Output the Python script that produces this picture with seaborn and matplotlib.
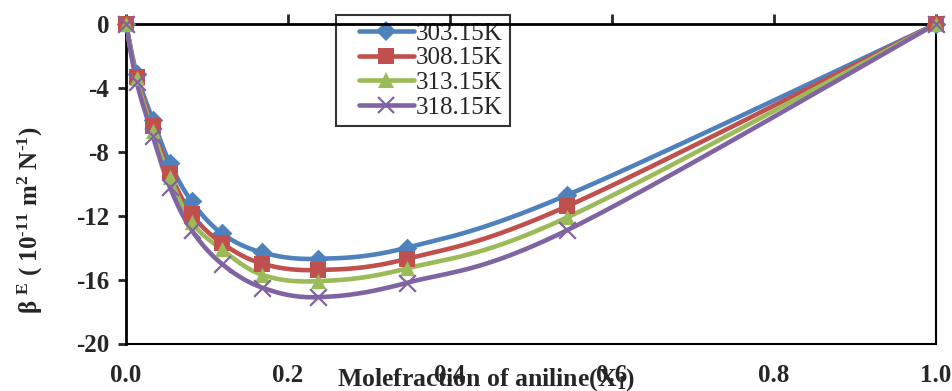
import numpy as np
import pandas as pd
import matplotlib
matplotlib.use("Agg")
import matplotlib.pyplot as plt
from matplotlib.lines import Line2D
from matplotlib.legend_handler import HandlerLine2D
import seaborn as sns

# ---- data ----
x_frac = [0.0, 0.013, 0.033, 0.054, 0.081, 0.118, 0.168, 0.237, 0.347, 0.545, 1.0]
b303 = [0, -3.1, -6.0, -8.7, -11.1, -13.1, -14.3, -14.7, -14.0, -10.7, 0]
b308 = [0, -3.3, -6.4, -9.3, -11.9, -13.7, -15.0, -15.4, -14.7, -11.4, 0]
b313 = [0, -3.4, -6.7, -9.6, -12.4, -14.1, -15.7, -16.1, -15.3, -12.1, 0]
b318 = [0, -3.6, -7.0, -10.2, -12.9, -15.0, -16.5, -17.1, -16.2, -12.9, 0]
series_labels = ["303.15K", "308.15K", "313.15K", "318.15K"]
x_ticks = [0.0, 0.2, 0.4, 0.6, 0.8, 1.0]
y_ticks = [0, -4, -8, -12, -16, -20]

colors = ["#4F81BD", "#C0504D", "#9BBB59", "#8064A2"]
markers = ["D", "s", "^", "x"]
msizes = [10, 11, 11, 12]

sns.set_style("white")
plt.rcParams["font.family"] = "serif"
plt.rcParams["font.serif"] = ["Liberation Serif", "Times New Roman", "DejaVu Serif"]
plt.rcParams["mathtext.fontset"] = "custom"
plt.rcParams["mathtext.rm"] = "Liberation Serif:bold"
plt.rcParams["mathtext.it"] = "Liberation Serif:bold"
plt.rcParams["mathtext.bf"] = "Liberation Serif:bold"

fig = plt.figure(figsize=(9.53, 3.91), dpi=100)
ax = fig.add_axes([126/953, 1-343.5/391, (936-126)/953, (343.5-24)/391])


def smooth(xs, ys, n=30):
    """Excel-like smoothed line (Bezier through points, Catmull-Rom tangents)."""
    P = np.column_stack([xs, ys]).astype(float)
    out = []
    m = len(P)
    for i in range(m - 1):
        p0 = P[i - 1] if i > 0 else P[i]
        p1, p2 = P[i], P[i + 1]
        p3 = P[i + 2] if i + 2 < m else P[i + 1]
        c1 = p1 + (p2 - p0) / 6.0
        c2 = p2 - (p3 - p1) / 6.0
        t = np.linspace(0, 1, n)[:, None]
        seg = ((1 - t) ** 3) * p1 + 3 * ((1 - t) ** 2) * t * c1 + 3 * (1 - t) * t ** 2 * c2 + t ** 3 * p2
        out.append(seg if i == 0 else seg[1:])
    S = np.vstack(out)
    return S[:, 0], S[:, 1]


all_series = [b303, b308, b313, b318]
handles = []
for ys, lab, c, mk, ms in zip(all_series, series_labels, colors, markers, msizes):
    sx, sy = smooth(x_frac, ys)
    df_line = pd.DataFrame({"x": sx, "y": sy})
    sns.lineplot(data=df_line, x="x", y="y", sort=False, color=c, lw=3.3, ax=ax,
                 estimator=None, legend=False, zorder=3)
    df_pts = pd.DataFrame({"x": x_frac, "y": ys})
    if mk == "x":
        sns.scatterplot(data=df_pts, x="x", y="y", marker="x", s=ms**2, color=c,
                        linewidth=1.6, ax=ax, legend=False, zorder=4, clip_on=False)
    else:
        sns.scatterplot(data=df_pts, x="x", y="y", marker=mk, s=ms**2, color=c,
                        edgecolor=c, linewidth=0, ax=ax, legend=False, zorder=4, clip_on=False)
    handles.append(Line2D([0], [0], color=c, lw=3.3, marker=mk, markersize=ms,
                          markeredgecolor=c, markeredgewidth=1.6 if mk == "x" else 0,
                          solid_capstyle="round"))

ax.set_xlim(0, 1)
ax.set_ylim(-20, 0)
ax.set_xticks(x_ticks)
ax.set_xticklabels([f"{v:.1f}" for v in x_ticks])
ax.set_yticks(y_ticks)
ax.set_yticklabels([str(v) for v in y_ticks])

for side in ["left", "top"]:
    ax.spines[side].set_color("black")
    ax.spines[side].set_linewidth(2.0)
for side in ["right", "bottom"]:
    ax.spines[side].set_color("black")
    ax.spines[side].set_linewidth(1.5)

ax.tick_params(axis="x", bottom=False, top=True, labelbottom=True, labeltop=False,
               direction="out", length=7, width=2, pad=8, labelsize=18)
ax.tick_params(axis="y", left=True, direction="out", length=6, width=2, pad=6, labelsize=18)
for lbl in ax.get_xticklabels() + ax.get_yticklabels():
    lbl.set_fontweight("bold")

ax.set_xlabel("Molefraction of aniline(X$_{1}$)", fontsize=18.5, fontweight="bold")
ax.set_ylabel("β $^{\\rm E}$ ( 10$^{\u201011}$ m$^{2}$ N$^{\u20101}$)", fontsize=18, fontweight="bold")
ax.xaxis.set_label_coords(0.444, -0.07)
ax.yaxis.set_label_coords(-0.1, 0.387)


class ShiftedHandler(HandlerLine2D):
    """Legend handle drawn with a left gap, as in the reference."""
    def create_artists(self, legend, orig_handle, xdescent, ydescent, width, height, fontsize, trans):
        arts = super().create_artists(legend, orig_handle, xdescent, ydescent,
                                      width, height, fontsize, trans)
        gap = 0.22
        for a in arts:
            xd = np.asarray(a.get_xdata(), dtype=float)
            x0 = -xdescent
            a.set_xdata(x0 + gap * width + (xd - x0) * (1 - gap))
        return arts


leg = ax.legend(handles, series_labels, loc="upper left",
                bbox_to_anchor=(336/953, 1-15/391), bbox_transform=fig.transFigure,
                borderaxespad=0, fontsize=18, frameon=True, fancybox=False,
                edgecolor="black", facecolor="none", handlelength=2.8,
                handletextpad=0.1, labelspacing=0.08, borderpad=0.3,
                handler_map={Line2D: ShiftedHandler()})
leg.get_frame().set_linewidth(1.5)
leg.set_zorder(2)

fig.savefig("out.png", dpi=100)
